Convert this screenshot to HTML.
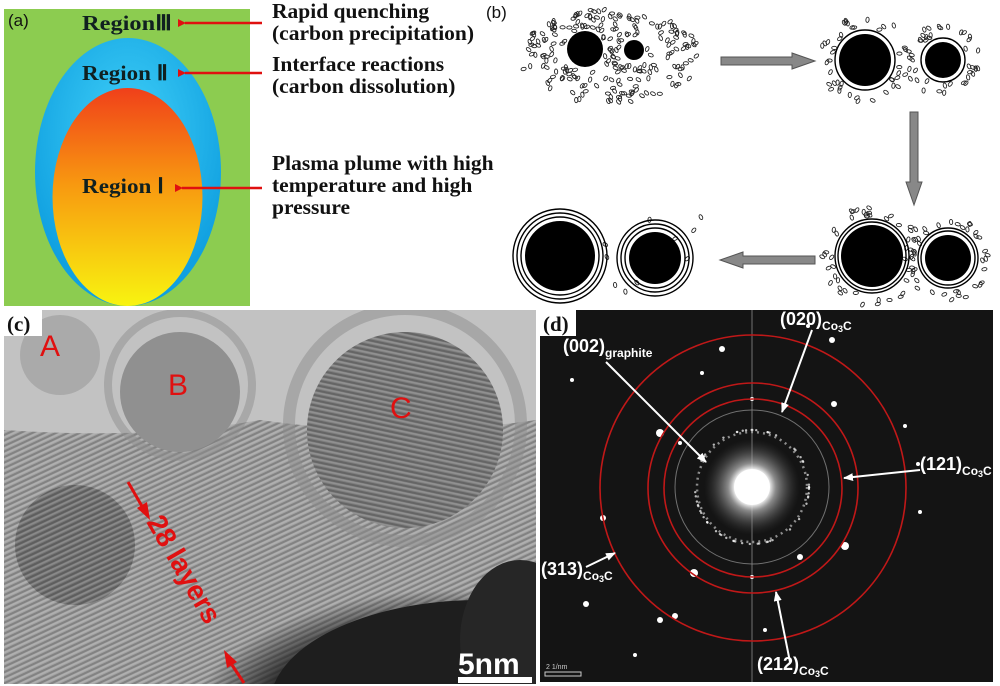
<!DOCTYPE html>
<html><head><meta charset="utf-8"><style>
html,body{margin:0;padding:0;background:#fff;width:1000px;height:686px;overflow:hidden}
svg{display:block;position:absolute;left:0;top:0}
.s{font-family:"Liberation Serif",serif;font-weight:bold}
.a{font-family:"Liberation Sans",sans-serif}
</style></head><body>
<svg id="root" width="1000" height="686" viewBox="0 0 1000 686" xmlns="http://www.w3.org/2000/svg">
<defs>
<linearGradient id="org" x1="0" y1="0" x2="0" y2="1">
<stop offset="0" stop-color="#f0401a"/><stop offset="0.45" stop-color="#f89a10"/><stop offset="1" stop-color="#f8f410"/></linearGradient>
<radialGradient id="blu" cx="0.5" cy="0.35" r="0.6"><stop offset="0" stop-color="#40d0f8"/><stop offset="1" stop-color="#10a0e0"/></radialGradient>
<marker id="ra" markerWidth="8" markerHeight="8" refX="1" refY="4" orient="auto" markerUnits="userSpaceOnUse"><path d="M8,0 L0,4 L8,8 Z" fill="#e01010"/></marker>
<marker id="wa" markerWidth="10" markerHeight="8" refX="9" refY="4" orient="auto" markerUnits="userSpaceOnUse"><path d="M0,0 L10,4 L0,8 Z" fill="#fff"/></marker>
<radialGradient id="glow" cx="0.5" cy="0.5" r="0.5"><stop offset="0" stop-color="#fff"/><stop offset="0.35" stop-color="#fff"/><stop offset="0.5" stop-color="#bbb" stop-opacity="0.7"/><stop offset="1" stop-color="#444" stop-opacity="0"/></radialGradient>
<radialGradient id="shade" cx="0.5" cy="0.5" r="0.5"><stop offset="0.7" stop-color="#1e1e1e"/><stop offset="1" stop-color="#1e1e1e" stop-opacity="0"/></radialGradient>
<pattern id="fr" width="5" height="5" patternUnits="userSpaceOnUse" patternTransform="rotate(-25)"><rect width="5" height="2" fill="#000" opacity="0.2"/><rect y="2.5" width="5" height="1.5" fill="#fff" opacity="0.15"/></pattern>
<pattern id="fr2" width="5" height="5" patternUnits="userSpaceOnUse" patternTransform="rotate(12)"><rect width="5" height="2" fill="#000" opacity="0.2"/><rect y="2.5" width="5" height="1.5" fill="#fff" opacity="0.15"/></pattern>
<clipPath id="cc"><rect x="4" y="310" width="532" height="374"/></clipPath>
</defs>

<rect x="4" y="9" width="246" height="297" fill="#8ccc50"/>
<ellipse cx="128" cy="172" rx="93" ry="134" fill="url(#blu)"/>
<ellipse cx="127.5" cy="197" rx="75" ry="109" fill="url(#org)"/>
<text x="8" y="26" class="a" font-size="17" fill="#111">(a)</text>
<text x="82" y="30" class="s" font-size="21" fill="#102020" textLength="90" lengthAdjust="spacingAndGlyphs">RegionⅢ</text>
<text x="82" y="80" class="s" font-size="21" fill="#102020" textLength="86" lengthAdjust="spacingAndGlyphs">Region Ⅱ</text>
<text x="82" y="193" class="s" font-size="21" fill="#102020" textLength="82" lengthAdjust="spacingAndGlyphs">Region Ⅰ</text>
<g stroke="#e01010" stroke-width="2.5">
<line x1="262" y1="23" x2="185" y2="23" marker-end="url(#ra)"/>
<line x1="262" y1="73" x2="185" y2="73" marker-end="url(#ra)"/>
<line x1="262" y1="188" x2="182" y2="188" marker-end="url(#ra)"/>
</g>
<g class="s" font-size="21.5" fill="#111">
<text x="272" y="18">Rapid quenching</text>
<text x="272" y="40">(carbon precipitation)</text>
<text x="272" y="71">Interface reactions</text>
<text x="272" y="93">(carbon dissolution)</text>
<text x="272" y="170">Plasma plume with high</text>
<text x="272" y="192">temperature and high</text>
<text x="272" y="214">pressure</text>
</g>

<text x="486" y="18" class="a" font-size="17" fill="#111">(b)</text>
<g id="parts" fill="none" stroke="#222" stroke-width="0.9"></g>
<g fill="#000">
<circle cx="585" cy="49" r="18"/><circle cx="634" cy="50" r="10"/>
</g>
<g fill="#888" stroke="#555" stroke-width="1">
<path d="M721,57 L792,57 L792,53 L815,61 L792,69 L792,65 L721,65 Z"/>
<path d="M910,112 L918,112 L918,182 L922,182 L914,205 L906,182 L910,182 Z"/>
<path d="M815,256 L743,256 L743,252 L720,260 L743,268 L743,264 L815,264 Z"/>
</g>
<g fill="none" stroke="#000" stroke-width="1.4">
<circle cx="865" cy="60" r="30"/><circle cx="943" cy="60" r="22"/>
<circle cx="872" cy="256" r="34"/><circle cx="872" cy="256" r="37"/>
<circle cx="948" cy="258" r="27"/><circle cx="948" cy="258" r="30"/>
<circle cx="560" cy="256" r="39"/><circle cx="560" cy="256" r="43"/><circle cx="560" cy="256" r="47"/>
<circle cx="655" cy="258" r="30"/><circle cx="655" cy="258" r="34"/><circle cx="655" cy="258" r="38"/>
</g>
<g fill="#000">
<circle cx="865" cy="60" r="26"/><circle cx="943" cy="60" r="18"/>
<circle cx="872" cy="256" r="31"/><circle cx="948" cy="258" r="23"/>
<circle cx="560" cy="256" r="35"/><circle cx="655" cy="258" r="26"/>
</g>

<g clip-path="url(#cc)">
<rect x="4" y="310" width="532" height="374" fill="#c2c2c2"/>
<path d="M4,430 Q150,440 260,420 Q400,440 536,420 L536,684 L4,684 Z" fill="#a2a2a2"/>
<path d="M4,430 Q150,440 260,420 Q400,440 536,420 L536,684 L4,684 Z" fill="url(#fr)"/>
<circle cx="60" cy="355" r="40" fill="#aaaaaa"/>
<circle cx="180" cy="385" r="72" fill="none" stroke="#8e8e8e" stroke-width="8" opacity="0.5"/>
<circle cx="180" cy="392" r="60" fill="#909090"/>
<circle cx="405" cy="425" r="116" fill="none" stroke="#8c8c8c" stroke-width="12" opacity="0.5"/>
<circle cx="405" cy="430" r="98" fill="#7e7e7e"/>
<circle cx="405" cy="430" r="98" fill="url(#fr2)"/>
<circle cx="75" cy="545" r="60" fill="#767676"/>
<circle cx="75" cy="545" r="60" fill="url(#fr)"/>
<ellipse cx="450" cy="725" rx="260" ry="135" fill="url(#shade)"/>
<ellipse cx="480" cy="705" rx="210" ry="105" fill="#1e1e1e"/>
<ellipse cx="520" cy="640" rx="60" ry="80" fill="#262626"/>
<text x="40" y="356" class="a" font-size="30" fill="#e01010">A</text>
<text x="168" y="395" class="a" font-size="30" fill="#e01010">B</text>
<text x="390" y="418" class="a" font-size="30" fill="#e01010">C</text>
<text transform="translate(146,522) rotate(60)" class="a" font-size="28" font-weight="bold" fill="#e01010">28 layers</text>
<g stroke="#e01010" stroke-width="3"><line x1="128" y1="482" x2="143" y2="508"/><line x1="244" y1="683" x2="232" y2="665"/></g>
<path d="M150,520 L137,508 L147,502 Z" fill="#e01010"/>
<path d="M224,650 L237,662 L227,668 Z" fill="#e01010"/>
<text x="458" y="674" class="a" font-size="30" font-weight="bold" fill="#fff">5nm</text>
<rect x="458" y="677" width="74" height="6" fill="#fff"/>
<rect x="4" y="310" width="38" height="26" fill="#fff"/>
<text x="7" y="331" class="s" font-size="21" fill="#111">(c)</text>
</g>

<rect x="540" y="310" width="453" height="372" fill="#141414"/>
<line x1="752" y1="310" x2="752" y2="682" stroke="#9a9a9a" stroke-width="1" opacity="0.7"/>
<g id="spots" fill="#fff"></g>
<circle cx="752" cy="487" r="55" fill="none" stroke="#aaa" stroke-width="2.5" stroke-dasharray="2 4" opacity="0.8"/>
<circle cx="752" cy="487" r="77" fill="none" stroke="#888" stroke-width="1" opacity="0.8"/>
<circle cx="752" cy="487" r="48" fill="url(#glow)"/>
<circle cx="752" cy="487" r="18" fill="#fff"/>
<g fill="none" stroke="#c01818" stroke-width="1.6">
<circle cx="753" cy="488" r="153"/><circle cx="753" cy="488" r="105"/><circle cx="753" cy="488" r="89"/>
</g>
<g stroke="#fff" stroke-width="2">
<line x1="606" y1="362" x2="706" y2="462" marker-end="url(#wa)"/>
<line x1="812" y1="330" x2="782" y2="412" marker-end="url(#wa)"/>
<line x1="920" y1="470" x2="844" y2="478" marker-end="url(#wa)"/>
<line x1="586" y1="567" x2="615" y2="553" marker-end="url(#wa)"/>
<line x1="790" y1="662" x2="776" y2="592" marker-end="url(#wa)"/>
</g>
<g class="a" font-weight="bold" fill="#fff">
<text x="780" y="325" font-size="18">(020)<tspan font-size="12" dy="5">Co<tspan font-size="9" dy="2">3</tspan><tspan dy="-2">C</tspan></tspan></text>
<text x="563" y="352" font-size="18">(002)<tspan font-size="12" dy="5">graphite</tspan></text>
<text x="920" y="470" font-size="18">(121)<tspan font-size="12" dy="5">Co<tspan font-size="9" dy="2">3</tspan><tspan dy="-2">C</tspan></tspan></text>
<text x="541" y="575" font-size="18">(313)<tspan font-size="12" dy="5">Co<tspan font-size="9" dy="2">3</tspan><tspan dy="-2">C</tspan></tspan></text>
<text x="757" y="670" font-size="18">(212)<tspan font-size="12" dy="5">Co<tspan font-size="9" dy="2">3</tspan><tspan dy="-2">C</tspan></tspan></text>
</g>
<rect x="545" y="672" width="36" height="4" fill="none" stroke="#ccc" stroke-width="1"/>
<text x="546" y="669" class="a" font-size="7" fill="#ccc">2 1/nm</text>
<rect x="540" y="310" width="36" height="26" fill="#fff"/>
<text x="543" y="331" class="s" font-size="21" fill="#111">(d)</text>
</svg>
<script>
(function(){
var ns="http://www.w3.org/2000/svg";
var seed=7;function r(){seed=(seed*16807)%2147483647;return seed/2147483647;}
var g=document.getElementById("parts");
function add(cx,cy){var e=document.createElementNS(ns,"ellipse");e.setAttribute("cx",cx.toFixed(1));e.setAttribute("cy",cy.toFixed(1));e.setAttribute("rx","1.6");e.setAttribute("ry","2.6");e.setAttribute("transform","rotate("+(r()*180|0)+" "+cx.toFixed(1)+" "+cy.toFixed(1)+")");g.appendChild(e);}
for(var i=0;i<260;i++){var a=r()*6.283,d=Math.sqrt(r());var x=610+Math.cos(a)*d*90,y=56+Math.sin(a)*d*48;
if(Math.hypot(x-585,y-49)<21||Math.hypot(x-634,y-50)<13)continue;add(x,y);}
function ring(cx,cy,r0,r1,n){for(var i=0;i<n;i++){var a=r()*6.283,d=r0+r()*(r1-r0);add(cx+Math.cos(a)*d,cy+Math.sin(a)*d);}}
ring(865,60,33,46,45);ring(943,60,25,38,40);
ring(872,256,40,50,45);ring(948,258,33,44,40);
for(var i=0;i<12;i++){add(590+r()*120,215+r()*85);}
var s=document.getElementById("spots");
var pts=[[722,349,3],[702,373,2],[572,380,2],[808,326,2],[832,340,3],[834,404,3],[660,433,4],[680,443,2],[603,518,3],[800,557,3],[845,546,4],[694,573,4],[675,616,3],[660,620,3],[586,604,3],[635,655,2],[765,630,2],[752,577,2],[752,399,2],[920,512,2],[905,426,2],[918,464,2]];
pts.forEach(function(p){var c=document.createElementNS(ns,"circle");c.setAttribute("cx",p[0]);c.setAttribute("cy",p[1]);c.setAttribute("r",p[2]);s.appendChild(c);});
for(var i=0;i<60;i++){var a=r()*6.283;var c=document.createElementNS(ns,"circle");c.setAttribute("cx",752+Math.cos(a)*57);c.setAttribute("cy",487+Math.sin(a)*57);c.setAttribute("r",1.2);c.setAttribute("opacity",0.7);s.appendChild(c);}
})();
</script>
</body></html>
